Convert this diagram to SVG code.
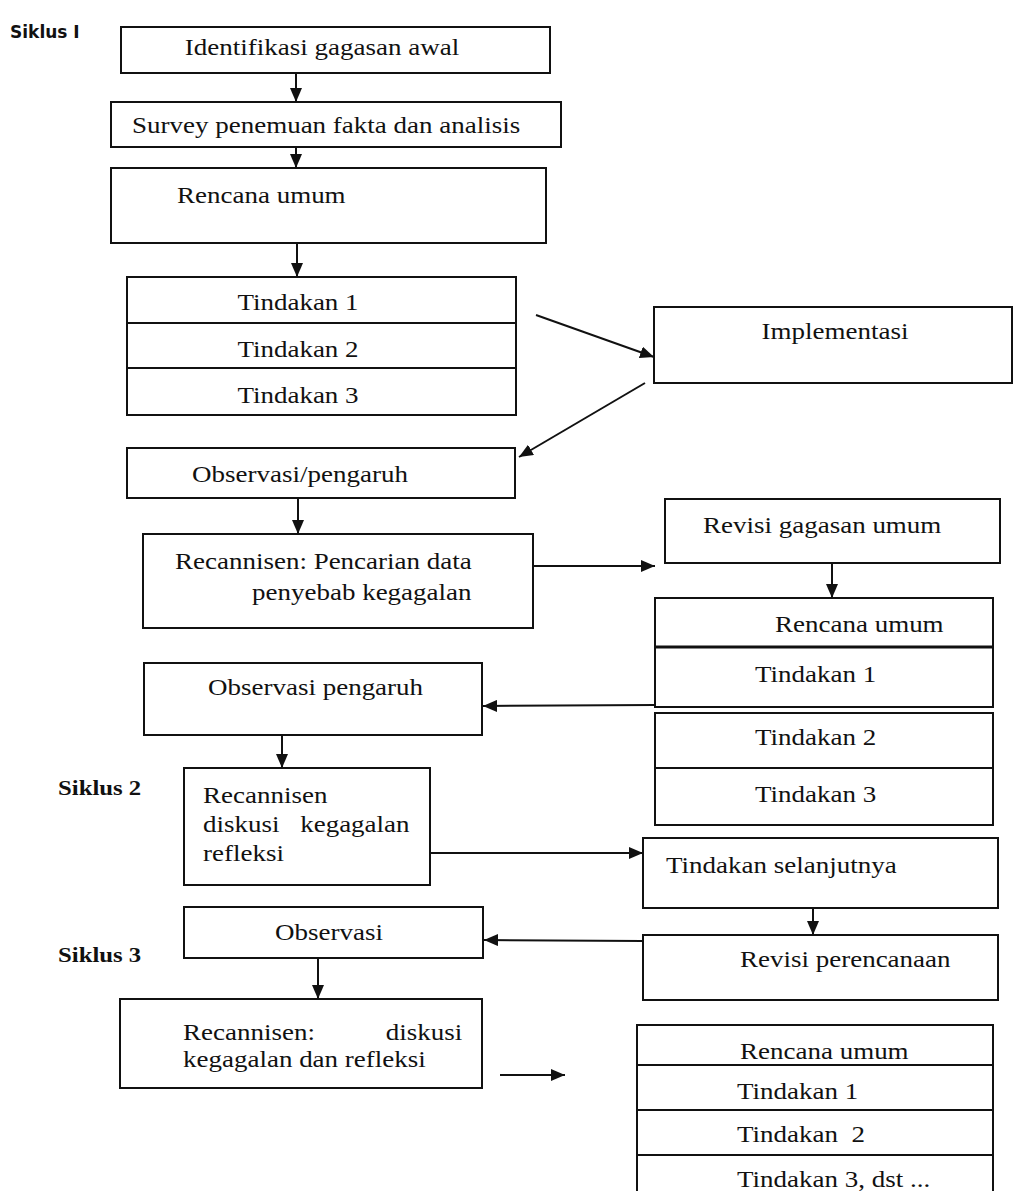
<svg xmlns="http://www.w3.org/2000/svg" width="1014" height="1191" viewBox="0 0 1014 1191">
<style>
.b{fill:#fff;stroke:#111;stroke-width:2}
.d{stroke:#111;stroke-width:2;fill:none}
.t{font-family:"Liberation Serif","Times New Roman",serif;font-size:24px;fill:#111}
.m{text-anchor:middle}
.s{font-family:"Liberation Serif","Times New Roman",serif;font-size:22px;font-weight:bold;fill:#111}
.c{stroke:#111;stroke-width:2;fill:none;marker-end:url(#ah)}
</style>
<defs>
<marker id="ah" viewBox="0 0 14 12" refX="14" refY="6" markerWidth="14" markerHeight="12" markerUnits="userSpaceOnUse" orient="auto">
<path d="M0,0 L14,6 L0,12 z" fill="#111"/>
</marker>
</defs>
<rect width="1014" height="1191" fill="#fff"/>

<g id="labels">
<text x="10" y="38" style="font-family:'DejaVu Sans',sans-serif;font-size:17px;font-weight:bold;fill:#111">Siklus I</text>
<text class="s" transform="translate(58 795) scale(1.125 1)">Siklus 2</text>
<text class="s" transform="translate(58 962) scale(1.125 1)">Siklus 3</text>
</g>

<g id="n1"><rect class="b" x="121" y="27" width="429" height="46"/>
<text class="t m" transform="translate(322 55) scale(1.125 1)">Identifikasi gagasan awal</text></g>

<g id="n2"><rect class="b" x="111" y="102" width="450" height="45"/>
<text class="t" transform="translate(132 133) scale(1.125 1)">Survey penemuan fakta dan analisis</text></g>

<g id="n3"><rect class="b" x="111" y="168" width="435" height="75"/>
<text class="t" transform="translate(177 203) scale(1.125 1)">Rencana umum</text></g>

<g id="n4"><rect class="b" x="127" y="277" width="389" height="138"/>
<line class="d" x1="127" y1="323" x2="516" y2="323"/>
<line class="d" x1="127" y1="368" x2="516" y2="368"/>
<text class="t m" transform="translate(298 310) scale(1.125 1)">Tindakan 1</text>
<text class="t m" transform="translate(298 357) scale(1.125 1)">Tindakan 2</text>
<text class="t m" transform="translate(298 403) scale(1.125 1)">Tindakan 3</text></g>

<g id="n5"><rect class="b" x="654" y="307" width="358" height="76"/>
<text class="t m" transform="translate(835 339) scale(1.125 1)">Implementasi</text></g>

<g id="n6"><rect class="b" x="127" y="448" width="388" height="50"/>
<text class="t m" transform="translate(300 482) scale(1.125 1)">Observasi/pengaruh</text></g>

<g id="n7"><rect class="b" x="143" y="534" width="390" height="94"/>
<text class="t" transform="translate(175 569) scale(1.125 1)">Recannisen: Pencarian data</text>
<text class="t" transform="translate(252 600) scale(1.125 1)">penyebab kegagalan</text></g>

<g id="n8"><rect class="b" x="665" y="499" width="335" height="64"/>
<text class="t" transform="translate(703 533) scale(1.125 1)">Revisi gagasan umum</text></g>

<g id="n9"><rect class="b" x="655" y="598" width="338" height="109"/>
<line x1="655" y1="647" x2="993" y2="647" stroke="#111" stroke-width="3"/>
<text class="t" transform="translate(775 632) scale(1.125 1)">Rencana umum</text>
<text class="t" transform="translate(755 682) scale(1.125 1)">Tindakan 1</text></g>

<g id="n10"><rect class="b" x="655" y="713" width="338" height="112"/>
<line class="d" x1="655" y1="768" x2="993" y2="768"/>
<text class="t" transform="translate(755 745) scale(1.125 1)">Tindakan 2</text>
<text class="t" transform="translate(755 802) scale(1.125 1)">Tindakan 3</text></g>

<g id="n11"><rect class="b" x="144" y="663" width="338" height="72"/>
<text class="t" transform="translate(208 695) scale(1.125 1)">Observasi pengaruh</text></g>

<g id="n12"><rect class="b" x="184" y="768" width="246" height="117"/>
<text class="t" transform="translate(203 803) scale(1.125 1)">Recannisen</text>
<text class="t" transform="translate(203 832) scale(1.125 1)" style="word-spacing:12.4px">diskusi kegagalan</text>
<text class="t" transform="translate(203 861) scale(1.125 1)">refleksi</text></g>

<g id="n13"><rect class="b" x="643" y="838" width="355" height="70"/>
<text class="t" transform="translate(666 873) scale(1.125 1)">Tindakan selanjutnya</text></g>

<g id="n14"><rect class="b" x="643" y="935" width="355" height="65"/>
<text class="t" transform="translate(740 967) scale(1.125 1)">Revisi perencanaan</text></g>

<g id="n15"><rect class="b" x="184" y="907" width="299" height="51"/>
<text class="t m" transform="translate(329 940) scale(1.125 1)">Observasi</text></g>

<g id="n16"><rect class="b" x="120" y="999" width="362" height="89"/>
<text class="t" transform="translate(183 1040) scale(1.125 1)" style="word-spacing:57px">Recannisen: diskusi</text>
<text class="t" transform="translate(183 1067) scale(1.125 1)">kegagalan dan refleksi</text></g>

<g id="n17"><rect class="b" x="637" y="1025" width="356" height="175"/>
<line class="d" x1="637" y1="1065" x2="993" y2="1065"/>
<line class="d" x1="637" y1="1110" x2="993" y2="1110"/>
<line class="d" x1="637" y1="1155" x2="993" y2="1155"/>
<text class="t" transform="translate(740 1059) scale(1.125 1)">Rencana umum</text>
<text class="t" transform="translate(737 1099) scale(1.125 1)">Tindakan 1</text>
<text class="t" transform="translate(737 1142) scale(1.125 1)" xml:space="preserve">Tindakan  2</text>
<text class="t" transform="translate(737 1187) scale(1.125 1)">Tindakan 3, dst ...</text></g>

<g id="connectors">
<line class="c" x1="296" y1="73" x2="296" y2="102"/>
<line class="c" x1="296" y1="147" x2="296" y2="168"/>
<line class="c" x1="297" y1="243" x2="297" y2="277"/>
<line class="c" x1="536" y1="315" x2="654" y2="357"/>
<line class="c" x1="645" y1="383" x2="519" y2="457"/>
<line class="c" x1="298" y1="498" x2="298" y2="534"/>
<line class="c" x1="533" y1="566" x2="655" y2="566"/>
<line class="c" x1="832" y1="563" x2="832" y2="598"/>
<line class="c" x1="655" y1="705" x2="483" y2="706"/>
<line class="c" x1="282" y1="735" x2="282" y2="768"/>
<line class="c" x1="430" y1="853" x2="643" y2="853"/>
<line class="c" x1="813" y1="908" x2="813" y2="935"/>
<line class="c" x1="643" y1="941" x2="484" y2="940"/>
<line class="c" x1="318" y1="958" x2="318" y2="999"/>
<line class="c" x1="500" y1="1075" x2="565" y2="1075"/>
</g>
</svg>
